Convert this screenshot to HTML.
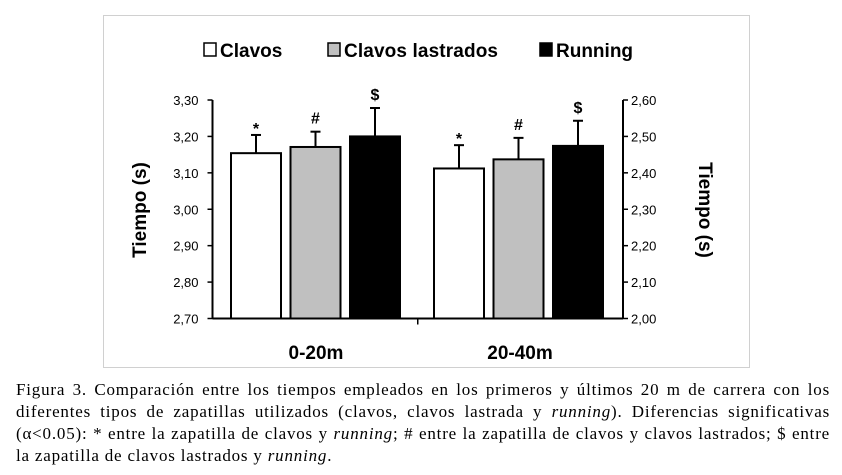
<!DOCTYPE html>
<html><head><meta charset="utf-8"><style>
body{margin:0;background:#fff;width:842px;height:475px;overflow:hidden;position:relative;font-family:"Liberation Sans",sans-serif}
#cap{position:absolute;left:16px;top:379px;width:814px;font-family:"Liberation Serif",serif;font-size:17px;letter-spacing:0.8px;line-height:22px;text-align:justify;color:#000}
</style></head><body>
<svg width="842" height="375" style="position:absolute;left:0;top:0">
<rect x="103.5" y="15.5" width="646" height="352" fill="#fff" stroke="#d0d0d0"/>
<g id="legend" font-weight="bold" font-size="19" font-family="Liberation Sans, sans-serif">
<g><rect x="204" y="43" width="12" height="13" fill="#fff" stroke="#000" stroke-width="1.5"/><text x="220" y="57">Clavos</text></g>
<g><rect x="328" y="43" width="12" height="13" fill="#c0c0c0" stroke="#000" stroke-width="1.5"/><text x="344" y="57" textLength="154">Clavos lastrados</text></g>
<g><rect x="540" y="43" width="12" height="13" fill="#000" stroke="#000" stroke-width="1.5"/><text x="556" y="57">Running</text></g>
</g>
<g id="plot"></g>
<text transform="translate(146,210) rotate(-90)" text-anchor="middle" font-weight="bold" font-size="19">Tiempo (s)</text>
<text transform="translate(699,210) rotate(90)" text-anchor="middle" font-weight="bold" font-size="19">Tiempo (s)</text>
</svg>
<div id="cap">Figura 3. Comparación entre los tiempos empleados en los primeros y últimos 20 m de carrera con los diferentes tipos de zapatillas utilizados (clavos, clavos lastrada y <i>running</i>). Diferencias significativas (α&lt;0.05): * entre la zapatilla de clavos y <i>running</i>; # entre la zapatilla de clavos y clavos lastrados; $ entre la zapatilla de clavos lastrados y <i>running</i>.</div>
<script>
const categories=["0-20m","20-40m"];
const series=["Clavos","Clavos lastrados","Running"];
const values0020=[3.154,3.171,3.20];
const errors0020=[0.05,0.042,0.078];
const values2040=[2.412,2.437,2.474];
const errors2040=[0.064,0.059,0.069];
const marks=["*","#","$"];
const leftTicks=["2,70","2,80","2,90","3,00","3,10","3,20","3,30"];
const rightTicks=["2,00","2,10","2,20","2,30","2,40","2,50","2,60"];
const fills=["#fff","#c0c0c0","#000"];
const NS="http://www.w3.org/2000/svg";
const plotG=document.getElementById('plot');
const yTop=100,yBot=318.5,axL=212.5,axR=623;
const yL=v=>yBot-(v-2.70)/0.6*(yBot-yTop);
const yR=v=>yBot-(v-2.00)/0.6*(yBot-yTop);
function el(t,a){const e=document.createElementNS(NS,t);for(const k in a)e.setAttribute(k,a[k]);plotG.appendChild(e);return e;}
let e;
e=el('line',{x1:axL,y1:yTop,x2:axL,y2:yBot,stroke:'#000','stroke-width':2});


e=el('line',{x1:axR,y1:yTop,x2:axR,y2:yBot,stroke:'#000','stroke-width':2});


e=el('line',{x1:axL,y1:yBot,x2:axR,y2:yBot,stroke:'#000','stroke-width':2});


e=el('line',{x1:(axL+axR)/2,y1:yBot,x2:(axL+axR)/2,y2:yBot+6,stroke:'#000','stroke-width':1.5});


leftTicks.forEach((t,i)=>{const y=yL(2.70+i*0.1);
 e=el('line',{x1:axL-5,y1:y,x2:axL,y2:y,stroke:'#000','stroke-width':1.5});
 
 
 e=el('text',{x:axL-14,y:y+5,'text-anchor':'end','font-size':13});e.textContent=t;
 
 
});
rightTicks.forEach((t,i)=>{const y=yR(2.00+i*0.1);
 e=el('line',{x1:axR,y1:y,x2:axR+5,y2:y,stroke:'#000','stroke-width':1.5});
 
 
 e=el('text',{x:axR+8,y:y+5,'font-size':13});e.textContent=t;
 
 
});
const groupStart=[231,434],bw=50,step=59.5;
categories.forEach((c,gi)=>{
 const vals=gi?values2040:values0020,errs=gi?errors2040:errors0020,ys=gi?yR:yL;
 vals.forEach((v,i)=>{
  const x=groupStart[gi]+i*step,yt=ys(v),ye=ys(v+errs[i]);
  e=el('line',{x1:x+bw/2,y1:yt,x2:x+bw/2,y2:ye,stroke:'#000','stroke-width':2});
  
  
  e=el('line',{x1:x+bw/2-5,y1:ye,x2:x+bw/2+5,y2:ye,stroke:'#000','stroke-width':2});
  
  
  e=el('rect',{x:x,y:yt,width:bw,height:yBot-yt,fill:fills[i],stroke:'#000','stroke-width':2});
  
  
  e=el('text',{x:x+bw/2,y:ye-(i==0?1:8),'text-anchor':'middle','font-size':16,'font-weight':'bold'});e.textContent=marks[i];
  
  
 });
 e=el('text',{x:gi?520:316,y:359,'text-anchor':'middle','font-size':19,'font-weight':'bold'});e.textContent=c;
 
 
});
</script>
</body></html>
